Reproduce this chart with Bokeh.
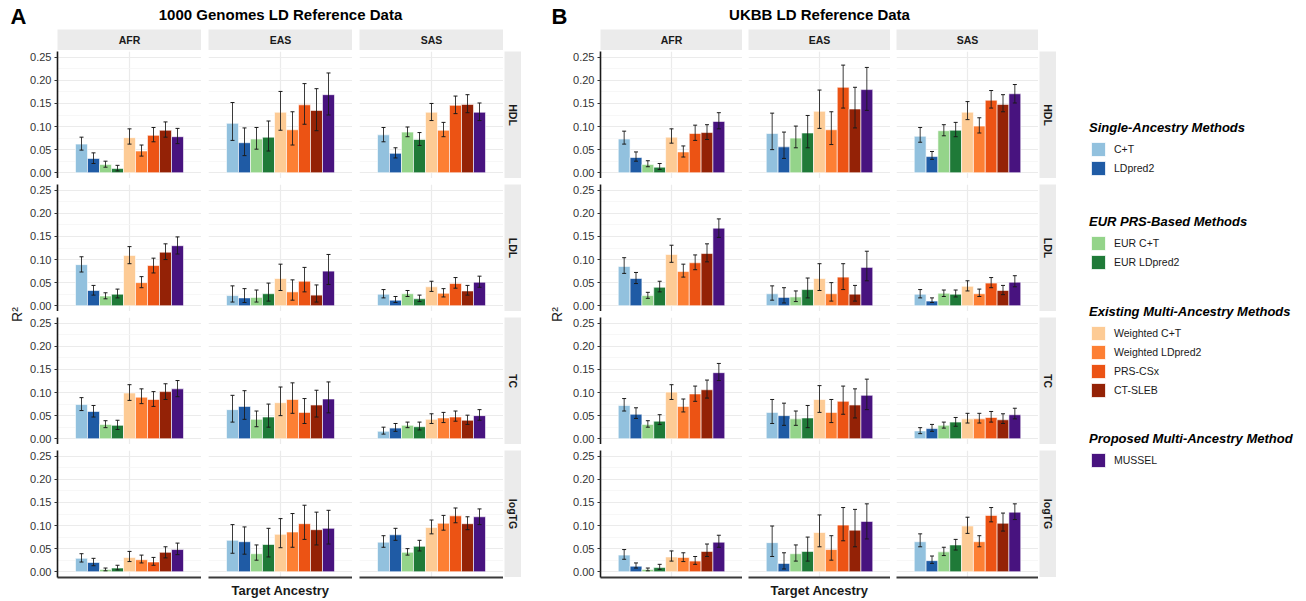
from math import pi
from bokeh.plotting import figure
from bokeh.layouts import row, column, Spacer
from bokeh.models import (ColumnDataSource, Whisker, TeeHead, FixedTicker,
                          NumeralTickFormatter, Label, Legend, LegendItem, Range1d)
from bokeh.embed import file_html
from bokeh.resources import INLINE

# ---------------- data ----------------
METHODS = ["C+T", "LDpred2", "EUR C+T", "EUR LDpred2", "Weighted C+T",
           "Weighted LDpred2", "PRS-CSx", "CT-SLEB", "MUSSEL"]
COLORS = ["#92C1DE", "#1F5BA5", "#94D48A", "#1F7A38", "#FDCB95",
          "#FD7F34", "#EC5314", "#942206", "#48137F"]
GROUPS = ["Single-Ancestry Methods", "EUR PRS-Based Methods",
          "Existing Multi-Ancestry Methods", "Proposed Multi-Ancestry Method"]
GROUP_SIZES = [2, 2, 4, 1]
ANCESTRIES = ["AFR", "EAS", "SAS"]
TRAITS = ["HDL", "LDL", "TC", "logTG"]
Y_TICKS = [0.0, 0.05, 0.10, 0.15, 0.20, 0.25]
PANEL_TITLES = ["1000 Genomes LD Reference Data", "UKBB LD Reference Data"]
PANEL_TAGS = ["A", "B"]
X_TITLE = "Target Ancestry"
Y_TITLE = "R\u00b2"

# 1000 Genomes LD reference (panel A); rows = AFR, EAS, SAS
KG_HDL_R2 = [[0.062, 0.031, 0.018, 0.009, 0.076, 0.047, 0.081, 0.092, 0.078],
             [0.107, 0.065, 0.073, 0.077, 0.131, 0.093, 0.147, 0.135, 0.169],
             [0.082, 0.042, 0.088, 0.072, 0.131, 0.092, 0.146, 0.148, 0.131]]
KG_HDL_LO = [[0.049, 0.020, 0.012, 0.004, 0.062, 0.036, 0.067, 0.077, 0.063],
             [0.070, 0.037, 0.051, 0.047, 0.092, 0.060, 0.105, 0.091, 0.125],
             [0.067, 0.032, 0.078, 0.059, 0.113, 0.078, 0.128, 0.130, 0.113]]
KG_HDL_HI = [[0.077, 0.043, 0.025, 0.016, 0.095, 0.060, 0.098, 0.110, 0.096],
             [0.152, 0.097, 0.098, 0.112, 0.176, 0.132, 0.193, 0.182, 0.216],
             [0.098, 0.054, 0.099, 0.087, 0.150, 0.109, 0.166, 0.169, 0.151]]

KG_LDL_R2 = [[0.089, 0.033, 0.021, 0.025, 0.109, 0.050, 0.087, 0.116, 0.130],
             [0.022, 0.017, 0.018, 0.026, 0.059, 0.030, 0.053, 0.023, 0.075],
             [0.025, 0.012, 0.026, 0.015, 0.041, 0.027, 0.048, 0.032, 0.051]]
KG_LDL_LO = [[0.073, 0.023, 0.015, 0.017, 0.091, 0.039, 0.071, 0.100, 0.112],
             [0.008, 0.007, 0.008, 0.010, 0.033, 0.012, 0.030, 0.008, 0.046],
             [0.017, 0.007, 0.020, 0.009, 0.031, 0.019, 0.038, 0.023, 0.040]]
KG_LDL_HI = [[0.106, 0.044, 0.028, 0.036, 0.128, 0.063, 0.103, 0.134, 0.149],
             [0.043, 0.037, 0.034, 0.049, 0.090, 0.056, 0.083, 0.045, 0.111],
             [0.035, 0.020, 0.033, 0.023, 0.053, 0.037, 0.061, 0.044, 0.064]]

KG_TC_R2 = [[0.074, 0.059, 0.031, 0.029, 0.099, 0.090, 0.085, 0.102, 0.108],
            [0.063, 0.070, 0.042, 0.047, 0.078, 0.085, 0.057, 0.073, 0.086],
            [0.016, 0.023, 0.029, 0.026, 0.042, 0.045, 0.047, 0.040, 0.050]]
KG_TC_LO = [[0.061, 0.047, 0.024, 0.020, 0.083, 0.076, 0.070, 0.085, 0.091],
            [0.036, 0.042, 0.026, 0.025, 0.050, 0.055, 0.033, 0.047, 0.056],
            [0.010, 0.016, 0.024, 0.019, 0.033, 0.035, 0.038, 0.031, 0.040]]
KG_TC_HI = [[0.089, 0.072, 0.039, 0.040, 0.117, 0.108, 0.102, 0.119, 0.126],
            [0.094, 0.104, 0.060, 0.075, 0.112, 0.121, 0.087, 0.105, 0.123],
            [0.025, 0.033, 0.036, 0.036, 0.054, 0.057, 0.060, 0.051, 0.063]]

KG_TG_R2 = [[0.029, 0.020, 0.005, 0.008, 0.031, 0.026, 0.021, 0.042, 0.048],
            [0.068, 0.065, 0.039, 0.059, 0.081, 0.086, 0.104, 0.091, 0.094],
            [0.064, 0.080, 0.042, 0.055, 0.096, 0.105, 0.121, 0.104, 0.119]]
KG_TG_LO = [[0.021, 0.013, 0.002, 0.004, 0.022, 0.019, 0.014, 0.030, 0.037],
            [0.040, 0.038, 0.025, 0.032, 0.052, 0.053, 0.070, 0.058, 0.060],
            [0.053, 0.068, 0.036, 0.045, 0.082, 0.090, 0.106, 0.091, 0.102]]
KG_TG_HI = [[0.039, 0.029, 0.008, 0.014, 0.044, 0.036, 0.031, 0.054, 0.062],
            [0.102, 0.097, 0.058, 0.094, 0.115, 0.126, 0.144, 0.129, 0.133],
            [0.078, 0.094, 0.050, 0.068, 0.112, 0.122, 0.138, 0.119, 0.136]]

# UKBB LD reference (panel B)
UK_HDL_R2 = [[0.073, 0.033, 0.018, 0.012, 0.077, 0.045, 0.085, 0.087, 0.111],
             [0.085, 0.056, 0.075, 0.086, 0.133, 0.093, 0.185, 0.138, 0.180],
             [0.079, 0.035, 0.091, 0.092, 0.131, 0.101, 0.157, 0.148, 0.171]]
UK_HDL_LO = [[0.062, 0.025, 0.013, 0.007, 0.064, 0.034, 0.070, 0.072, 0.095],
             [0.050, 0.031, 0.054, 0.054, 0.096, 0.061, 0.140, 0.097, 0.135],
             [0.066, 0.029, 0.080, 0.078, 0.115, 0.086, 0.140, 0.132, 0.151]]
UK_HDL_HI = [[0.090, 0.045, 0.026, 0.020, 0.095, 0.058, 0.103, 0.104, 0.130],
             [0.129, 0.088, 0.101, 0.124, 0.179, 0.132, 0.233, 0.185, 0.228],
             [0.098, 0.046, 0.104, 0.109, 0.154, 0.119, 0.178, 0.169, 0.191]]

UK_LDL_R2 = [[0.085, 0.059, 0.022, 0.040, 0.111, 0.074, 0.093, 0.113, 0.168],
             [0.026, 0.018, 0.019, 0.035, 0.059, 0.026, 0.062, 0.025, 0.083],
             [0.025, 0.010, 0.027, 0.025, 0.042, 0.026, 0.049, 0.033, 0.051]]
UK_LDL_LO = [[0.070, 0.048, 0.016, 0.030, 0.094, 0.062, 0.078, 0.095, 0.148],
             [0.012, 0.006, 0.009, 0.017, 0.033, 0.010, 0.035, 0.010, 0.054],
             [0.017, 0.007, 0.020, 0.019, 0.032, 0.020, 0.039, 0.024, 0.041]]
UK_LDL_HI = [[0.104, 0.072, 0.029, 0.053, 0.131, 0.090, 0.110, 0.134, 0.188],
             [0.043, 0.039, 0.032, 0.060, 0.091, 0.050, 0.091, 0.044, 0.118],
             [0.035, 0.017, 0.034, 0.034, 0.054, 0.036, 0.061, 0.044, 0.065]]

UK_TC_R2 = [[0.072, 0.053, 0.031, 0.038, 0.101, 0.070, 0.097, 0.106, 0.143],
            [0.057, 0.050, 0.043, 0.045, 0.085, 0.057, 0.081, 0.073, 0.094],
            [0.017, 0.022, 0.029, 0.036, 0.043, 0.043, 0.046, 0.041, 0.052]]
UK_TC_LO = [[0.060, 0.044, 0.025, 0.031, 0.085, 0.058, 0.081, 0.088, 0.126],
            [0.033, 0.029, 0.029, 0.024, 0.057, 0.035, 0.053, 0.045, 0.063],
            [0.011, 0.016, 0.023, 0.027, 0.034, 0.034, 0.036, 0.033, 0.043]]
UK_TC_HI = [[0.087, 0.067, 0.039, 0.052, 0.117, 0.086, 0.114, 0.127, 0.163],
            [0.085, 0.077, 0.060, 0.072, 0.115, 0.085, 0.114, 0.108, 0.129],
            [0.024, 0.031, 0.036, 0.046, 0.055, 0.055, 0.059, 0.054, 0.066]]

UK_TG_R2 = [[0.036, 0.012, 0.005, 0.009, 0.032, 0.031, 0.023, 0.044, 0.064],
            [0.063, 0.018, 0.039, 0.044, 0.085, 0.048, 0.101, 0.090, 0.109],
            [0.065, 0.024, 0.043, 0.058, 0.099, 0.065, 0.122, 0.105, 0.129]]
UK_TG_LO = [[0.027, 0.008, 0.002, 0.005, 0.023, 0.022, 0.016, 0.033, 0.053],
            [0.033, 0.006, 0.023, 0.023, 0.054, 0.025, 0.067, 0.054, 0.071],
            [0.054, 0.018, 0.035, 0.047, 0.083, 0.054, 0.108, 0.088, 0.113]]
UK_TG_HI = [[0.048, 0.019, 0.008, 0.016, 0.045, 0.041, 0.033, 0.060, 0.079],
            [0.099, 0.041, 0.058, 0.075, 0.123, 0.078, 0.139, 0.135, 0.147],
            [0.082, 0.034, 0.053, 0.070, 0.118, 0.078, 0.139, 0.127, 0.147]]

DATA = [
    {"HDL": (KG_HDL_R2, KG_HDL_LO, KG_HDL_HI), "LDL": (KG_LDL_R2, KG_LDL_LO, KG_LDL_HI),
     "TC": (KG_TC_R2, KG_TC_LO, KG_TC_HI), "logTG": (KG_TG_R2, KG_TG_LO, KG_TG_HI)},
    {"HDL": (UK_HDL_R2, UK_HDL_LO, UK_HDL_HI), "LDL": (UK_LDL_R2, UK_LDL_LO, UK_LDL_HI),
     "TC": (UK_TC_R2, UK_TC_LO, UK_TC_HI), "logTG": (UK_TG_R2, UK_TG_LO, UK_TG_HI)},
]

# ---------------- styling ----------------
FONT = "Liberation Sans"
GRID = "#EBEBEB"
MINOR = "#F5F5F5"
STRIP = "#EBEBEB"
FACET_H = 127
LEFT_PAD = 33
TOP_H = 29


def base_fig(fw, fh, **kw):
    p = figure(frame_width=fw, frame_height=fh, min_border=0, toolbar_location=None,
               output_backend="svg", title=None, **kw)
    p.outline_line_color = None
    return p


def blank_fig(fw, fh, **kw):
    p = base_fig(fw, fh, x_axis_location=None, y_axis_location=None,
                 x_range=Range1d(0, 1), y_range=Range1d(0, 1), **kw)
    p.grid.visible = False
    return p


def facet(vals, lo, hi, fw, left, bottom, xlabel=None):
    p = base_fig(fw, FACET_H, x_range=Range1d(0.4, 1.6), y_range=Range1d(-0.0125, 0.2625),
                 x_axis_location="below" if bottom else None,
                 y_axis_location="left" if left else None)
    if left:
        p.min_border_left = LEFT_PAD
    n = len(METHODS)
    xs = [1 + (i - (n - 1) / 2) * 0.1 for i in range(n)]
    src = ColumnDataSource(dict(x=xs, top=vals, lo=lo, hi=hi, color=COLORS))
    p.vbar(x="x", top="top", bottom=0, width=0.1, fill_color="color",
           line_color="white", line_width=0.6, source=src)
    p.add_layout(Whisker(source=src, base="x", lower="lo", upper="hi", level="annotation",
                         line_color="#1A1A1A", line_alpha=0.85, line_width=1,
                         upper_head=TeeHead(size=4, line_color="#1A1A1A", line_width=1),
                         lower_head=TeeHead(size=4, line_color="#1A1A1A", line_width=1)))
    p.xgrid.ticker = FixedTicker(ticks=[1])
    p.xgrid.grid_line_color = GRID
    p.xgrid.grid_line_width = 1.2
    minors = [(a + b) / 2 for a, b in zip(Y_TICKS[:-1], Y_TICKS[1:])] + [Y_TICKS[-1] + 0.025]
    p.ygrid.ticker = FixedTicker(ticks=Y_TICKS, minor_ticks=minors)
    p.ygrid.grid_line_color = GRID
    p.ygrid.grid_line_width = 1.2
    p.ygrid.minor_grid_line_color = MINOR
    p.ygrid.minor_grid_line_width = 0.8
    if left:
        ay = p.yaxis[0]
        ay.ticker = FixedTicker(ticks=Y_TICKS)
        ay.formatter = NumeralTickFormatter(format="0.00")
        ay.major_label_text_font = FONT
        ay.major_label_text_font_size = "11px"
        ay.major_label_text_color = "#333333"
        ay.major_label_standoff = 3
        ay.major_tick_in = 0
        ay.major_tick_out = 3
        ay.major_tick_line_color = "#333333"
        ay.minor_tick_line_color = None
        ay.axis_line_color = "#1A1A1A"
        ay.axis_line_width = 1.6
    if bottom:
        p.min_border_bottom = 4
        ax = p.xaxis[0]
        ax.ticker = FixedTicker(ticks=[])
        ax.major_tick_line_color = None
        ax.minor_tick_line_color = None
        ax.major_tick_out = 0
        ax.major_label_text_font_size = "0px"
        ax.axis_line_color = "#3A3A3A"
        ax.axis_line_width = 2.2
        if xlabel:
            ax.axis_label = xlabel
            ax.axis_label_text_font = FONT
            ax.axis_label_text_font_size = "13px"
            ax.axis_label_text_font_style = "bold"
            ax.axis_label_text_color = "#1A1A1A"
            ax.axis_label_standoff = 5
    return p


def top_strip(text, fw, left):
    p = blank_fig(fw, 21)
    if left:
        p.min_border_left = LEFT_PAD
    p.background_fill_color = STRIP
    p.add_layout(Label(x=0.5, y=0.5, text=text, text_align="center", text_baseline="middle",
                       text_font=FONT, text_font_size="10.5px", text_font_style="bold",
                       text_color="#1A1A1A"))
    return p


def right_strip(text):
    p = blank_fig(17, FACET_H)
    p.background_fill_color = STRIP
    p.add_layout(Label(x=0.5, y=0.5, text=text, text_align="center", text_baseline="middle",
                       angle=-pi / 2, text_font=FONT, text_font_size="10.5px",
                       text_font_style="bold", text_color="#1A1A1A"))
    return p


def panel(k, fw, ylab_w, col_gap, tag_x):
    data = DATA[k]
    cols = []
    for j, anc in enumerate(ANCESTRIES):
        facets = []
        for i, tr in enumerate(TRAITS):
            v, lo, hi = data[tr]
            facets.append(facet(v[j], lo[j], hi[j], fw, left=(j == 0),
                                bottom=(i == len(TRAITS) - 1),
                                xlabel=X_TITLE if j == 1 else None))
        cols.append(column(top_strip(anc, fw, j == 0), column(*facets, spacing=6), spacing=1))
    strips = column(Spacer(width=17, height=22),
                    column(*[right_strip(t) for t in TRAITS], spacing=6))
    body_h = 22 + 4 * FACET_H + 3 * 6
    ylab = blank_fig(ylab_w, body_h)
    ylab.add_layout(Label(x=ylab_w / 2 + 1, y=(4 * FACET_H + 3 * 6) / 2, x_units="screen",
                          y_units="screen", text=Y_TITLE, angle=pi / 2, text_align="center",
                          text_baseline="middle", text_font=FONT, text_font_size="14px",
                          text_color="#1A1A1A"))
    grid = row(row(*cols, spacing=col_gap), strips, spacing=1)
    total_w = ylab_w + LEFT_PAD + 3 * fw + 2 * col_gap + 1 + 17
    head = blank_fig(total_w, TOP_H)
    head.add_layout(Label(x=tag_x, y=1, x_units="screen", y_units="screen", text=PANEL_TAGS[k],
                          text_font=FONT, text_font_size="22px", text_font_style="bold",
                          text_color="black"))
    centre = ylab_w + LEFT_PAD + (3 * fw + 2 * col_gap) / 2
    head.add_layout(Label(x=centre, y=7, x_units="screen", y_units="screen",
                          text=PANEL_TITLES[k], text_align="center", text_font=FONT,
                          text_font_size="15px", text_font_style="bold", text_color="black"))
    return column(head, row(ylab, grid))


pA = panel(0, 144, 17, 7, 3)
pB = panel(1, 142, 23, 6, 7)

# ---------------- legend ----------------
LEG_H = 592
lp = blank_fig(228, LEG_H)
legend_bottoms = [415, 321, 193, 123]
start = 0
for g, (title, size) in enumerate(zip(GROUPS, GROUP_SIZES)):
    items = []
    for m in range(start, start + size):
        r = lp.vbar(x=[0.5], top=[0.5], bottom=[0.5], width=0, fill_color=COLORS[m],
                    line_color="white", line_width=1)
        items.append(LegendItem(label=METHODS[m], renderers=[r]))
    start += size
    leg = Legend(items=items, title=title, location=(20, legend_bottoms[g]),
                 orientation="vertical", padding=0, margin=0, spacing=1,
                 glyph_width=18, glyph_height=18, label_height=18, label_standoff=7,
                 title_standoff=5, border_line_color=None, background_fill_alpha=0,
                 label_text_font=FONT, label_text_font_size="10.5px",
                 label_text_color="#1A1A1A", title_text_font=FONT,
                 title_text_font_style="bold italic", title_text_font_size="13px",
                 title_text_color="black")
    lp.add_layout(leg)

layout = row(Spacer(width=7), pA, Spacer(width=23), pB, Spacer(width=13), lp)

open("out.html", "w").write(file_html(layout, INLINE))
